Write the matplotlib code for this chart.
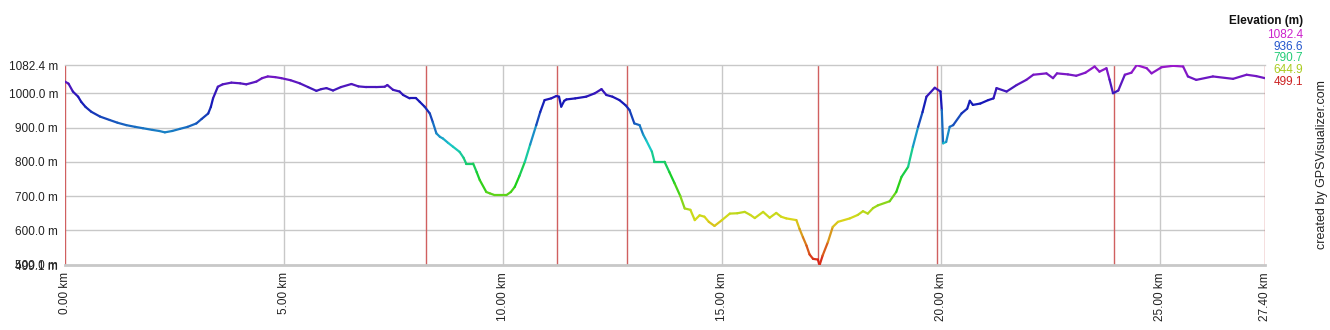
import numpy as np
import matplotlib
matplotlib.use('Agg')
import matplotlib.pyplot as plt
from matplotlib.collections import LineCollection
from matplotlib.colors import hsv_to_rgb

plt.rcParams['font.family'] = ['Liberation Sans', 'DejaVu Sans']

# profil (km, m)
dist_km = [0.00, 0.08, 0.18, 0.30, 0.37, 0.47, 0.60, 0.80, 1.02, 1.20, 1.40, 1.60, 1.78, 2.00, 2.15,
           2.28, 2.45, 2.62, 2.80, 3.00, 3.12, 3.27, 3.33, 3.38, 3.49, 3.60, 3.80, 4.00, 4.14, 4.37,
           4.50, 4.63, 4.80, 4.94, 5.15, 5.36, 5.55, 5.74, 5.85, 5.97, 6.12, 6.30, 6.54, 6.70, 6.88,
           7.10, 7.30, 7.36, 7.49, 7.64, 7.72, 7.87, 8.02, 8.10, 8.21, 8.33, 8.40, 8.48, 8.56, 8.63,
           8.75, 8.86, 9.01, 9.10, 9.16, 9.32, 9.40, 9.47, 9.62, 9.70, 9.81, 10.08, 10.18, 10.27, 10.38,
           10.50, 10.62, 10.76, 10.85, 10.95, 11.10, 11.22, 11.28, 11.33, 11.40, 11.45, 11.65, 11.90, 12.10, 12.25,
           12.36, 12.50, 12.66, 12.80, 12.89, 13.00, 13.12, 13.20, 13.27, 13.40, 13.46, 13.69, 13.80, 13.92, 14.05,
           14.15, 14.28, 14.38, 14.49, 14.60, 14.70, 14.83, 15.00, 15.18, 15.35, 15.52, 15.65, 15.75, 15.94, 16.09,
           16.24, 16.35, 16.47, 16.70, 16.77, 16.85, 16.93, 17.00, 17.08, 17.19, 17.23, 17.30, 17.42, 17.53, 17.65,
           17.92, 18.10, 18.22, 18.33, 18.45, 18.56, 18.83, 18.98, 19.10, 19.25, 19.36, 19.48, 19.58, 19.67, 19.86,
           19.99, 20.02, 20.05, 20.12, 20.20, 20.28, 20.47, 20.60, 20.66, 20.73, 20.90, 21.08, 21.20, 21.27, 21.50,
           21.73, 21.95, 22.11, 22.41, 22.56, 22.65, 22.90, 23.09, 23.30, 23.51, 23.62, 23.78, 23.85, 23.93, 24.05,
           24.20, 24.35, 24.47, 24.70, 24.81, 25.04, 25.30, 25.53, 25.64, 25.83, 26.21, 26.67, 26.98, 27.20, 27.40]
elev_m = [1034, 1028, 1005, 990, 975, 960, 946, 932, 922, 914, 907, 902, 898, 893, 890,
          886, 890, 896, 902, 912, 925, 941, 960, 985, 1019, 1026, 1031, 1029, 1026, 1034,
          1044, 1049, 1047, 1044, 1038, 1029, 1018, 1007, 1012, 1015, 1008, 1018, 1027, 1020, 1018,
          1018, 1019, 1024, 1010, 1005, 995, 985, 985, 975, 961, 941, 915, 883, 873, 868,
          855, 844, 829, 812, 795, 795, 770, 747, 712, 708, 703, 703, 712, 727, 760,
          800, 850, 907, 945, 980, 985, 992, 990, 961, 978, 982, 985, 990, 1000, 1012,
          995, 990, 980, 965, 951, 912, 907, 880, 863, 830, 800, 800, 770, 737, 700,
          664, 660, 630, 644, 640, 625, 613, 630, 649, 650, 654, 645, 636, 654, 637,
          651, 640, 635, 630, 605, 580, 556, 530, 517, 515, 499, 527, 566, 610, 625,
          635, 645, 656, 649, 665, 673, 685, 712, 756, 785, 844, 902, 945, 990, 1016,
          1005, 951, 854, 858, 902, 907, 941, 955, 978, 966, 970, 980, 985, 1015, 1005,
          1024, 1039, 1054, 1058, 1044, 1058, 1055, 1051, 1060, 1078, 1063, 1073, 1040, 1000, 1008,
          1054, 1060, 1082, 1073, 1058, 1076, 1080, 1078, 1049, 1039, 1049, 1042, 1054, 1050, 1044]

marker_km = [0.0, 8.24, 11.23, 12.83, 17.19, 19.91, 23.95, 27.40]
x_ticks = [0, 5, 10, 15, 20, 25, 27.40]
x_labels = ['0.00 km', '5.00 km', '10.00 km', '15.00 km', '20.00 km', '25.00 km', '27.40 km']
y_ticks = [499.1, 500, 600, 700, 800, 900, 1000, 1082.4]
y_labels = ['499.1 m', '500.0 m', '600.0 m', '700.0 m', '800.0 m', '900.0 m', '1000.0 m', '1082.4 m']
legend_vals = [1082.4, 936.6, 790.7, 644.9, 499.1]

emin, emax = 499.1, 1082.4

# teinte en fonction de l'altitude (approx. de l'image)
hue_elev = [499, 645, 790, 880, 940, 985, 1015, 1040, 1083]
hue_deg = [0, 65, 145, 200, 228, 243, 257, 268, 285]
val_deg = [0.85, 0.85, 0.80, 0.78, 0.72, 0.72, 0.74, 0.76, 0.80]


def elev_color(e):
    h = np.interp(e, hue_elev, hue_deg) / 360.0
    v = np.interp(e, hue_elev, val_deg)
    return hsv_to_rgb([h, 0.88, v])


fig = plt.figure(figsize=(13.3, 3.3), dpi=100)
ax = fig.add_axes([65 / 1330, 65 / 330, 1200 / 1330, 200 / 330])

ax.set_xlim(0, 27.40)
ax.set_ylim(emin, emax)

for t in x_ticks[1:-1]:
    ax.axvline(t, color='#c8c8c8', lw=1, zorder=1)
for t in y_ticks[2:-1]:
    ax.axhline(t, color='#c8c8c8', lw=1, zorder=1)
for m in marker_km:
    ax.axvline(m, color='#d06060', lw=1, zorder=2)

x = np.array(dist_km)
y = np.array(elev_m, dtype=float)
pts = np.column_stack([x, y]).reshape(-1, 1, 2)
segs = np.concatenate([pts[:-1], pts[1:]], axis=1)
cols = [elev_color((a + b) / 2) for a, b in zip(y[:-1], y[1:])]
lc = LineCollection(segs, colors=cols, linewidths=1.6, zorder=3, capstyle='round', joinstyle='round')
ax.add_collection(lc)

for sp in ['left', 'right']:
    ax.spines[sp].set_visible(False)
ax.spines['top'].set_color('#c8c8c8')
ax.spines['top'].set_linewidth(1)
ax.spines['bottom'].set_color('#c8c8c8')
ax.spines['bottom'].set_linewidth(2)

ax.set_xticks(x_ticks)
ax.set_xticklabels(x_labels, rotation=90, fontsize=8.5, color='#222222')
ax.set_yticks(y_ticks)
ax.set_yticklabels(y_labels, fontsize=8.5, color='#222222')
ax.tick_params(length=0, pad=5)

fig.text(1303 / 1330, 1 - 21 / 330, 'Elevation (m)', ha='right', va='center',
         fontsize=8.5, fontweight='bold', color='#111111')
legend_cols = ['#cc22cc', '#2255cc', '#22cc77', '#aacc22', '#cc2222']
for i, v in enumerate(legend_vals):
    fig.text(1303 / 1330, 1 - (35 + i * 11.7) / 330, '%.1f' % v, ha='right', va='center',
             fontsize=8.5, color=legend_cols[i])

fig.text(1322 / 1330, 0.5, 'created by GPSVisualizer.com', rotation=90, ha='center', va='center',
         fontsize=9, color='#222222')

fig.savefig('out.png', dpi=100)
